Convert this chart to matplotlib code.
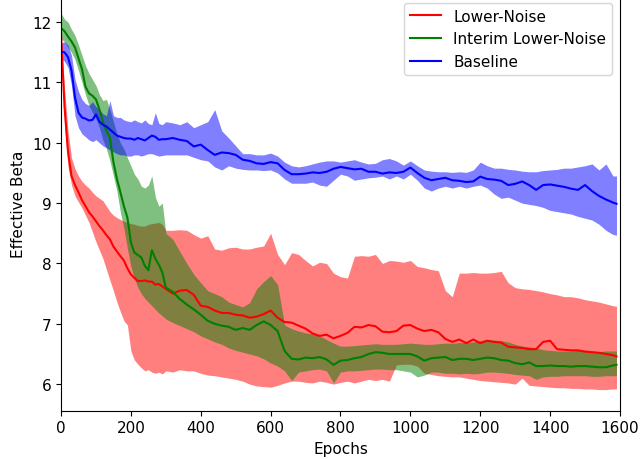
import numpy as np
import matplotlib
matplotlib.use("Agg")
import matplotlib.pyplot as plt

# Epoch grid (finer at the start where curves drop fast)
epochs = [0, 10, 20, 30, 40, 50, 60, 70, 80, 90, 100,
          110, 120, 130, 140, 150, 160, 170, 180, 190, 200,
          210, 220, 230, 240, 250, 260, 270, 280, 290, 300,
          320, 340, 360, 380, 400, 420, 440, 460, 480, 500,
          520, 540, 560, 580, 600, 620, 640, 660, 680, 700,
          720, 740, 760, 780, 800, 820, 840, 860, 880, 900,
          920, 940, 960, 980, 1000, 1020, 1040, 1060, 1080, 1100,
          1120, 1140, 1160, 1180, 1200, 1220, 1240, 1260, 1280, 1300,
          1320, 1340, 1360, 1380, 1400, 1420, 1440, 1460, 1480, 1500,
          1520, 1540, 1560, 1580, 1590]

# Lower-Noise (red)
lower_mean = [11.80, 10.60, 9.85, 9.45, 9.30, 9.18, 9.05, 8.95, 8.85, 8.78, 8.70,
              8.62, 8.55, 8.47, 8.40, 8.28, 8.20, 8.12, 8.05, 7.92, 7.82,
              7.76, 7.71, 7.71, 7.72, 7.70, 7.70, 7.65, 7.66, 7.62, 7.58,
              7.50, 7.55, 7.56, 7.48, 7.30, 7.28, 7.22, 7.18, 7.18, 7.15,
              7.14, 7.10, 7.12, 7.16, 7.22, 7.10, 7.03, 7.02, 6.97, 6.92,
              6.84, 6.80, 6.82, 6.76, 6.80, 6.85, 6.95, 6.94, 6.98, 6.96,
              6.87, 6.86, 6.88, 6.97, 6.98, 6.92, 6.88, 6.90, 6.86, 6.75,
              6.70, 6.74, 6.68, 6.74, 6.68, 6.72, 6.70, 6.69, 6.62, 6.61,
              6.60, 6.58, 6.58, 6.70, 6.72, 6.58, 6.57, 6.56, 6.56, 6.54,
              6.53, 6.52, 6.50, 6.48, 6.46]
lower_hi = [11.80, 10.90, 10.20, 9.75, 9.57, 9.45, 9.36, 9.30, 9.25, 9.18, 9.12,
            9.08, 9.04, 8.95, 8.86, 8.80, 8.76, 8.73, 8.70, 8.68, 8.66,
            8.65, 8.63, 8.62, 8.62, 8.65, 8.66, 8.67, 8.68, 8.65, 8.55,
            8.55, 8.56, 8.55, 8.48, 8.42, 8.46, 8.24, 8.22, 8.26, 8.27,
            8.24, 8.24, 8.27, 8.29, 8.50, 8.15, 7.98, 8.18, 8.15, 8.05,
            7.96, 8.02, 8.00, 7.84, 7.78, 7.76, 8.12, 8.13, 8.12, 8.15,
            8.00, 8.05, 8.04, 8.02, 8.05, 7.95, 7.93, 7.90, 7.88, 7.55,
            7.45, 7.84, 7.84, 7.85, 7.84, 7.84, 7.85, 7.87, 7.68, 7.60,
            7.58, 7.57, 7.55, 7.53, 7.50, 7.48, 7.45, 7.45, 7.43, 7.40,
            7.38, 7.36, 7.33, 7.30, 7.29]
lower_lo = [11.80, 10.30, 9.60, 9.30, 9.12, 9.02, 8.92, 8.80, 8.68, 8.52, 8.36,
            8.22, 8.08, 7.90, 7.72, 7.55, 7.36, 7.20, 7.05, 6.98, 6.55,
            6.40, 6.33, 6.27, 6.22, 6.24, 6.20, 6.18, 6.20, 6.17, 6.22,
            6.20, 6.24, 6.22, 6.22, 6.18, 6.15, 6.14, 6.12, 6.10, 6.08,
            6.05, 6.00, 5.97, 5.96, 5.95, 5.98, 6.02, 6.05, 6.05, 6.03,
            6.02, 6.05, 6.03, 6.00, 6.03, 6.05, 6.02, 6.05, 6.08, 6.06,
            6.08, 6.05, 6.32, 6.33, 6.33, 6.30, 6.18, 6.16, 6.14, 6.13,
            6.12, 6.12, 6.10, 6.08, 6.06, 6.05, 6.04, 6.03, 6.02, 6.00,
            6.10, 5.98, 5.97, 5.96, 5.95, 5.94, 5.94, 5.93, 5.93, 5.92,
            5.92, 5.91, 5.91, 5.92, 5.92]

# Interim Lower-Noise (green)
interim_mean = [11.90, 11.85, 11.76, 11.68, 11.58, 11.40, 11.22, 10.93, 10.82, 10.78, 10.72,
                10.55, 10.35, 10.20, 10.08, 9.68, 9.40, 9.18, 8.95, 8.76, 8.35,
                8.18, 8.14, 8.10, 7.96, 7.89, 8.22, 8.08, 7.98, 7.85, 7.60,
                7.53, 7.41, 7.32, 7.24, 7.15, 7.05, 7.00, 6.97, 6.95, 6.90,
                6.93, 6.90, 6.98, 7.04, 6.98, 6.88, 6.55, 6.42, 6.41, 6.44,
                6.43, 6.45, 6.41, 6.32, 6.39, 6.40, 6.43, 6.45, 6.50, 6.53,
                6.52, 6.50, 6.50, 6.50, 6.50, 6.46, 6.39, 6.43, 6.44, 6.45,
                6.40, 6.42, 6.42, 6.40, 6.42, 6.44, 6.43, 6.40, 6.39, 6.35,
                6.33, 6.36, 6.30, 6.30, 6.31, 6.30, 6.30, 6.29, 6.30, 6.30,
                6.29, 6.28, 6.28, 6.31, 6.32]
interim_hi = [12.15, 12.05, 12.00, 11.88, 11.78, 11.62, 11.45, 11.28, 11.15, 11.05, 10.95,
              10.80, 10.70, 10.72, 10.55, 10.35, 10.15, 10.00, 9.90, 9.75, 9.62,
              9.48, 9.40, 9.28, 9.25, 9.30, 9.45, 9.10, 8.95, 9.00, 8.50,
              8.40, 8.20, 8.00, 7.82, 7.68, 7.55, 7.50, 7.45, 7.36, 7.32,
              7.28, 7.35, 7.58, 7.70, 7.80, 7.65, 6.98, 6.92, 6.88, 6.85,
              6.83, 6.80, 6.74, 6.68, 6.63, 6.63, 6.64, 6.65, 6.66, 6.67,
              6.66, 6.66, 6.66, 6.67, 6.68, 6.67, 6.66, 6.66, 6.67, 6.68,
              6.68, 6.69, 6.69, 6.70, 6.72, 6.74, 6.73, 6.72, 6.70, 6.66,
              6.63, 6.62, 6.60, 6.57, 6.56, 6.55, 6.55, 6.55, 6.56, 6.55,
              6.54, 6.54, 6.55, 6.55, 6.55]
interim_lo = [11.72, 11.68, 11.58, 11.50, 11.38, 11.20, 11.00, 10.80, 10.62, 10.50, 10.40,
              10.25, 10.05, 9.90, 9.70, 9.45, 9.20, 8.85, 8.58, 8.25, 7.95,
              7.75, 7.60, 7.50, 7.42, 7.36, 7.30, 7.24, 7.18, 7.13, 7.08,
              7.02, 6.97, 6.92, 6.87, 6.80, 6.75, 6.70, 6.66, 6.60, 6.56,
              6.53, 6.50, 6.47, 6.42, 6.35, 6.30, 6.22, 6.06, 6.20, 6.22,
              6.24, 6.25, 6.22, 6.02, 6.20, 6.22, 6.22, 6.23, 6.24, 6.25,
              6.25, 6.24, 6.24, 6.22, 6.20, 6.12, 6.15, 6.20, 6.20, 6.18,
              6.18, 6.17, 6.18, 6.17, 6.18, 6.20, 6.20, 6.19, 6.18, 6.16,
              6.15, 6.14, 6.08, 6.12, 6.13, 6.13, 6.14, 6.14, 6.14, 6.14,
              6.13, 6.13, 6.14, 6.14, 6.14]

# Baseline (blue)
base_mean = [11.51, 11.50, 11.42, 11.20, 10.75, 10.50, 10.42, 10.40, 10.37, 10.38, 10.47,
             10.35, 10.30, 10.27, 10.22, 10.17, 10.12, 10.10, 10.08, 10.07, 10.07,
             10.05, 10.08, 10.06, 10.04, 10.08, 10.12, 10.10, 10.05, 10.06, 10.06,
             10.08, 10.05, 10.03, 9.94, 9.97, 9.88, 9.80, 9.84, 9.83, 9.80,
             9.72, 9.70, 9.66, 9.65, 9.68, 9.66, 9.55, 9.48, 9.48, 9.49,
             9.51, 9.50, 9.52, 9.57, 9.60, 9.58, 9.56, 9.57, 9.52, 9.52,
             9.49, 9.51, 9.50, 9.52, 9.59, 9.50, 9.42, 9.38, 9.40, 9.42,
             9.38, 9.37, 9.35, 9.36, 9.44, 9.40, 9.39, 9.37, 9.30, 9.32,
             9.36, 9.30, 9.22, 9.30, 9.31, 9.29, 9.27, 9.24, 9.22, 9.30,
             9.20, 9.12, 9.06, 9.01, 8.99]
base_hi = [11.65, 11.68, 11.62, 11.45, 11.05, 10.85, 10.72, 10.65, 10.62, 10.68, 10.60,
           10.55, 10.48, 10.45, 10.70, 10.45, 10.42, 10.42, 10.38, 10.36, 10.35,
           10.38, 10.35, 10.33, 10.38, 10.32, 10.30, 10.50, 10.32, 10.30, 10.35,
           10.33, 10.30, 10.35, 10.25, 10.30, 10.35, 10.55, 10.20, 10.08, 9.95,
           9.82, 9.82, 9.80, 9.80, 9.83, 9.78, 9.68, 9.62, 9.60, 9.62,
           9.65, 9.68, 9.70, 9.70, 9.68, 9.70, 9.72, 9.68, 9.65, 9.66,
           9.72, 9.74, 9.70, 9.63, 9.70, 9.62, 9.55, 9.53, 9.52, 9.52,
           9.51, 9.52, 9.51, 9.55, 9.68, 9.62, 9.58, 9.58, 9.56, 9.55,
           9.53, 9.52, 9.52, 9.54, 9.55, 9.56, 9.58, 9.58, 9.60, 9.62,
           9.65, 9.55, 9.65, 9.45, 9.45]
base_lo = [11.40, 11.35, 11.25, 10.95, 10.45, 10.25, 10.15, 10.10, 10.05, 10.02, 10.05,
           10.00, 9.95, 9.92, 9.88, 9.85, 9.82, 9.80, 9.80, 9.78, 9.78,
           9.80, 9.80, 9.78, 9.80, 9.82, 9.82, 9.80, 9.78, 9.79, 9.80,
           9.80, 9.80, 9.80, 9.76, 9.72, 9.70, 9.60, 9.55, 9.62, 9.58,
           9.56, 9.55, 9.55, 9.54, 9.55, 9.50, 9.40, 9.33, 9.33, 9.33,
           9.35, 9.30, 9.28, 9.38, 9.48, 9.45, 9.38, 9.40, 9.42, 9.43,
           9.45, 9.40, 9.45, 9.40, 9.48, 9.38, 9.25, 9.20, 9.25, 9.28,
           9.25, 9.28, 9.25, 9.28, 9.30, 9.25, 9.15, 9.08, 9.10, 9.05,
           9.00, 8.98, 8.96, 8.93, 8.88, 8.86, 8.84, 8.82, 8.78, 8.75,
           8.72, 8.65, 8.55, 8.48, 8.47]

series = [
    ("Lower-Noise", "r", lower_mean, lower_lo, lower_hi),
    ("Interim Lower-Noise", "g", interim_mean, interim_lo, interim_hi),
    ("Baseline", "b", base_mean, base_lo, base_hi),
]

fig = plt.figure(figsize=(6.41, 4.60), dpi=100)
ax = fig.add_axes([0.0952, 0.105, 0.8720, 0.9037])

for label, color, mean, lo, hi in series:
    ax.fill_between(epochs, lo, hi, color=color, alpha=0.5, linewidth=0)
    ax.plot(epochs, mean, color=color, label=label)

ax.set_xlim(0, 1600)
ax.set_ylim(5.56, 12.45)
ax.set_xlabel("Epochs", fontsize=11)
ax.set_ylabel("Effective Beta", fontsize=11)
ax.tick_params(labelsize=11)
ax.spines["top"].set_visible(False)
ax.legend(loc="upper right", fontsize=11)

fig.savefig("out.png", dpi=100)
